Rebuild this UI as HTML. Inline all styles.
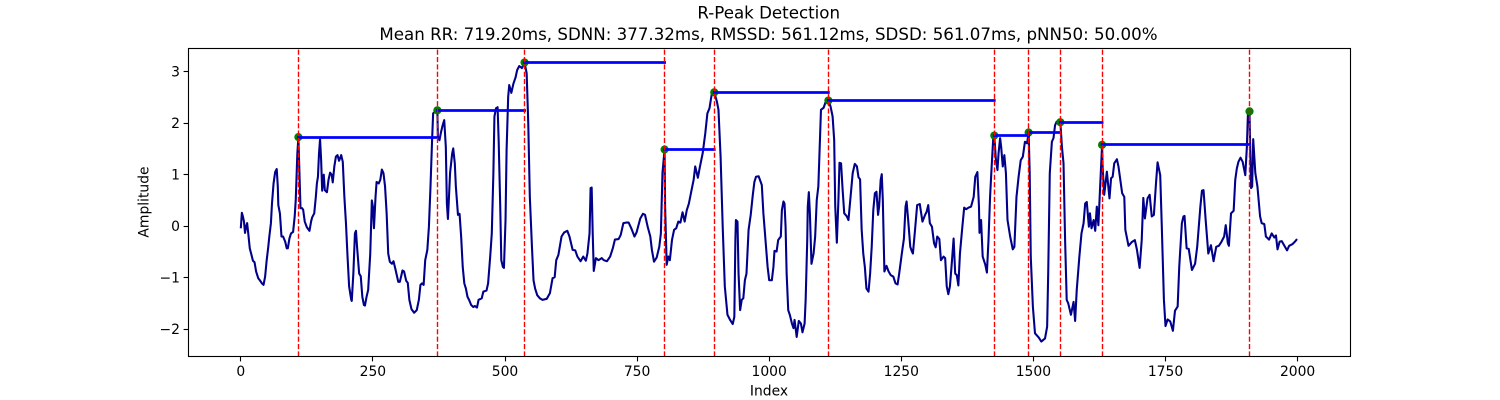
<!DOCTYPE html>
<html>
<head>
<meta charset="utf-8">
<title>R-Peak Detection</title>
<style>
html,body{margin:0;padding:0;background:#fff;width:1500px;height:400px;overflow:hidden}
svg{display:block}
text{font-family:"DejaVu Sans",sans-serif;fill:#000}
</style>
</head>
<body>
<svg id="chart" xmlns="http://www.w3.org/2000/svg" width="1500" height="400" viewBox="0 0 1500 400">
<rect x="0" y="0" width="1500" height="400" fill="#fff"/>
<text x="768.7" y="18.5" font-size="16.67" text-anchor="middle">R-Peak Detection</text>
<text x="768.5" y="40" font-size="16.67" text-anchor="middle">Mean RR: 719.20ms, SDNN: 377.32ms, RMSSD: 561.12ms, SDSD: 561.07ms, pNN50: 50.00%</text>
<text x="769" y="395.5" font-size="13.89" text-anchor="middle">Index</text>
<text x="148.5" y="202" font-size="13.89" text-anchor="middle" transform="rotate(-90 148.5 202)">Amplitude</text>
<g id="marks"></g>
<g id="axes"></g>
</svg>
<script>
const xTicks = [0, 250, 500, 750, 1000, 1250, 1500, 1750, 2000];
const yTicks = [-2, -1, 0, 1, 2, 3];
const peakIndex = [109, 372, 537, 802, 896, 1112, 1426, 1491, 1551, 1630, 1909];
const peakAmplitude = [1.73, 2.25, 3.18, 1.49, 2.60, 2.44, 1.76, 1.82, 2.02, 1.58, 2.23];
const sampleIndex = [0,2,4,6,8,10,12,14,17,20,23,26,29,33,36,40,43,46,49,52,54,57,59,62,65,68,70,71,74,77,80,84,87,89,92,95,99,102,104,107,109,111,113,116,118,121,125,130,133,135,139,142,144,146,148,150,152,154,157,159,163,166,169,172,174,177,180,183,186,190,193,196,199,202,205,209,210,213,216,218,220,224,227,230,233,235,238,241,245,248,250,252,255,257,261,264,267,270,273,276,279,282,286,289,293,298,301,306,309,313,316,319,323,328,333,337,340,343,346,349,353,356,359,362,364,369,372,373,376,379,382,385,388,390,392,394,396,400,402,405,407,411,414,417,420,423,426,429,432,436,440,443,447,450,452,456,459,465,468,472,475,478,480,483,486,488,491,493,496,498,501,503,506,508,512,516,520,523,527,532,537,541,544,547,551,554,557,561,566,571,579,585,590,594,597,601,607,612,618,622,628,633,637,643,648,653,656,660,662,664,666,668,672,677,683,687,693,699,704,708,715,719,724,729,734,739,745,749,756,761,765,770,775,778,782,787,792,795,798,802,803,806,809,812,816,820,824,828,832,836,840,844,848,853,857,860,865,869,874,879,883,887,891,896,901,904,908,912,916,921,926,931,934,936,937,940,942,945,948,951,954,957,961,965,969,972,975,980,986,989,992,997,1000,1005,1008,1010,1014,1017,1019,1022,1024,1027,1029,1031,1033,1036,1039,1043,1046,1048,1052,1056,1060,1063,1067,1069,1072,1073,1075,1077,1080,1084,1087,1090,1093,1096,1098,1103,1107,1112,1116,1120,1123,1125,1128,1131,1133,1136,1139,1142,1147,1150,1154,1158,1162,1166,1169,1172,1175,1178,1181,1184,1188,1191,1194,1197,1200,1203,1206,1208,1211,1213,1215,1218,1222,1226,1230,1235,1239,1243,1246,1251,1255,1258,1260,1263,1267,1270,1272,1276,1280,1285,1290,1295,1298,1301,1304,1308,1312,1315,1318,1322,1325,1330,1333,1336,1339,1342,1345,1349,1352,1355,1358,1361,1365,1369,1373,1377,1382,1387,1390,1394,1397,1398,1401,1404,1409,1412,1415,1418,1421,1424,1426,1429,1432,1434,1437,1439,1442,1445,1448,1451,1456,1461,1464,1468,1472,1476,1480,1484,1488,1491,1493,1495,1499,1503,1510,1515,1522,1526,1528,1531,1535,1538,1541,1544,1551,1554,1557,1560,1563,1566,1571,1576,1579,1582,1587,1591,1595,1598,1601,1605,1607,1610,1614,1617,1620,1623,1626,1630,1631,1634,1639,1644,1647,1650,1653,1658,1661,1665,1668,1672,1674,1680,1686,1692,1696,1701,1705,1708,1711,1716,1720,1724,1728,1732,1735,1740,1743,1747,1750,1754,1759,1764,1768,1773,1776,1781,1784,1786,1790,1794,1800,1806,1810,1816,1819,1822,1826,1831,1836,1841,1846,1851,1856,1861,1864,1868,1870,1874,1879,1882,1885,1888,1892,1896,1901,1904,1906,1909,1910,1912,1914,1916,1920,1924,1929,1932,1937,1940,1946,1951,1956,1959,1962,1966,1970,1975,1980,1984,1990,1995,1999];
const amplitude = [-0.04,0.26,0.19,0.09,-0.13,-0.01,0.06,-0.13,-0.43,-0.55,-0.67,-0.70,-0.88,-1.01,-1.05,-1.11,-1.14,-0.98,-0.66,-0.40,-0.20,0.06,0.44,0.83,1.05,1.11,0.77,0.41,0.25,-0.20,-0.20,-0.30,-0.43,-0.43,-0.24,-0.14,-0.11,0.19,0.51,1.41,1.73,1.03,0.35,0.35,0.32,0.09,-0.02,-0.09,0.09,0.17,0.25,0.57,0.83,0.96,1.41,1.69,1.29,0.69,1.00,0.70,0.66,0.90,1.04,1.00,0.85,1.16,1.35,1.38,1.27,1.38,1.25,0.57,0.06,-0.59,-1.17,-1.43,-1.45,-0.92,-0.14,-0.09,-0.40,-0.92,-0.97,-1.37,-1.53,-1.54,-1.37,-1.24,-0.53,0.50,0.38,-0.04,0.57,0.86,0.83,0.90,1.10,1.03,0.77,0.25,-0.53,-0.69,-0.73,-0.68,-0.85,-1.08,-1.08,-0.86,-0.88,-1.06,-1.10,-1.43,-1.61,-1.68,-1.63,-1.43,-1.14,-1.11,-1.14,-0.66,-0.46,-0.01,0.77,1.67,2.19,2.24,2.25,1.74,1.67,1.83,1.96,2.06,1.54,0.44,0.14,0.57,1.03,1.41,1.51,1.22,0.77,0.22,0.24,-0.20,-0.79,-1.11,-1.21,-1.37,-1.43,-1.53,-1.57,-1.55,-1.58,-1.43,-1.42,-1.40,-1.27,-1.25,-1.11,-0.59,-0.14,1.03,2.13,2.29,2.31,1.67,0.38,-0.66,-0.79,-0.81,0.12,1.48,2.51,2.74,2.59,2.77,2.89,3.03,3.11,3.07,3.18,2.97,2.00,0.57,-0.40,-1.05,-1.21,-1.34,-1.40,-1.43,-1.41,-1.30,-1.01,-0.99,-0.66,-0.56,-0.20,-0.12,-0.09,-0.20,-0.46,-0.47,-0.59,-0.68,-0.59,-0.67,-0.53,-0.14,0.74,0.75,-0.14,-0.87,-0.62,-0.66,-0.62,-0.66,-0.68,-0.59,-0.43,-0.26,-0.25,-0.17,0.06,0.07,0.07,-0.04,-0.20,-0.12,0.15,0.24,0.22,-0.01,-0.20,-0.46,-0.69,-0.61,-0.40,-0.14,1.03,1.49,0.38,-0.75,-0.59,-0.66,-0.27,-0.07,-0.04,0.09,0.07,0.27,0.09,0.31,0.44,0.70,0.90,1.16,0.94,1.16,1.41,1.80,2.19,2.29,2.55,2.60,2.42,2.26,1.35,-0.01,-1.17,-1.72,-1.82,-1.90,-1.76,-0.27,0.12,0.09,-0.92,-1.63,-1.43,-1.40,-1.05,-0.92,-0.07,0.22,0.61,0.86,0.96,0.97,0.80,0.25,-0.14,-0.79,-1.05,-1.05,-0.79,-0.48,-0.49,-0.27,-0.24,-0.20,0.31,0.48,0.44,-0.01,-0.92,-1.63,-1.72,-1.89,-1.98,-1.82,-2.15,-1.84,-1.89,-2.06,-1.89,-1.43,-0.27,0.38,0.66,0.25,-0.73,-0.53,-0.20,0.51,0.77,1.67,2.26,2.30,2.42,2.44,2.33,2.13,1.67,0.38,-0.32,0.51,1.23,1.22,0.70,0.25,0.19,0.12,0.57,1.03,1.21,1.16,0.95,0.91,-0.07,-0.53,-0.79,-1.21,-1.27,-0.92,-0.40,0.31,0.64,0.67,0.22,0.38,0.90,1.01,0.51,-0.88,-0.77,-0.88,-0.95,-0.98,-1.11,-1.13,-0.92,-0.53,-0.24,0.38,0.48,0.12,-0.40,-0.49,-0.53,-0.07,0.41,0.43,0.09,0.22,0.28,0.41,0.06,-0.01,-0.33,-0.41,-0.20,-0.25,-0.66,-0.59,-0.62,-1.17,-1.32,-1.17,-0.79,-0.24,-0.92,-0.95,-1.15,-0.53,-0.07,0.36,0.33,0.36,0.38,0.57,0.96,1.05,0.38,-0.13,0.12,-0.59,-0.75,-0.90,-0.27,0.57,1.16,1.71,1.76,1.29,1.09,1.41,1.71,1.54,1.16,1.38,1.03,0.12,-0.20,-0.45,-0.40,0.57,0.96,1.28,1.35,1.64,1.61,1.82,1.03,-0.59,-1.56,-2.08,-2.16,-2.24,-2.18,-1.95,-0.92,1.03,1.64,1.71,1.96,2.03,2.02,1.54,1.22,-0.27,-1.43,-1.50,-1.72,-1.47,-1.84,-1.24,-0.59,-0.14,0.06,0.44,0.47,-0.01,0.25,-0.04,0.12,-0.09,0.38,0.02,0.70,1.58,1.16,0.61,1.06,0.54,0.93,0.96,1.22,1.30,1.16,0.86,0.64,0.57,-0.07,-0.38,-0.31,-0.27,-0.46,-0.81,-0.27,0.55,0.15,0.54,0.61,0.19,0.22,0.83,1.24,0.99,-0.01,-1.43,-1.94,-1.81,-1.85,-2.03,-1.64,-1.56,-0.79,0.06,0.19,0.20,-0.43,-0.44,-0.85,-0.73,-0.40,0.38,0.69,0.70,0.12,-0.53,-0.37,-0.68,-0.40,-0.38,-0.30,-0.20,0.02,-0.33,-0.38,0.25,0.30,0.90,1.12,1.25,1.33,1.25,0.99,1.54,2.19,2.23,1.67,0.74,0.77,1.69,1.03,0.77,0.19,0.06,0.04,-0.20,-0.26,-0.14,-0.22,-0.18,-0.45,-0.30,-0.29,-0.38,-0.47,-0.38,-0.35,-0.30,-0.25];

const SVG_NS = 'http://www.w3.org/2000/svg';
const plotLeft = 188.5, plotRight = 1350.5, plotTop = 48.5, plotBottom = 356.5;
function xScale(v) { return 240.8 + v * 0.5284; }
function yScale(v) { return 226.2 - v * 51.5; }
function snap(px) { return Math.floor(px) + 0.5; }
function make(tag, attrs) {
  const el = document.createElementNS(SVG_NS, tag);
  for (const k in attrs) el.setAttribute(k, attrs[k]);
  return el;
}
const marks = document.getElementById('marks');
const axes = document.getElementById('axes');

const signal = make('polyline', {
  points: sampleIndex.map((v, i) => xScale(v).toFixed(2) + ',' + yScale(amplitude[i]).toFixed(2)).join(' '),
  fill: 'none', stroke: '#00008b', 'stroke-width': 2.08, 'stroke-linejoin': 'round'
});


marks.appendChild(signal);

peakIndex.forEach((p, i) => {
  const dot = make('circle', { cx: xScale(p), cy: yScale(peakAmplitude[i]), r: 4.1, fill: '#008000' });
  
  
  marks.appendChild(dot);
});

peakIndex.forEach((p, i) => {
  if (i === peakIndex.length - 1) return;
  const seg = make('line', {
    x1: xScale(p), x2: xScale(peakIndex[i + 1]),
    y1: snap(yScale(peakAmplitude[i])), y2: snap(yScale(peakAmplitude[i])),
    stroke: '#0000ff', 'stroke-width': 2.78, 'stroke-linecap': 'square'
  });
  
  
  marks.appendChild(seg);
});

peakIndex.forEach((p) => {
  const v = make('line', {
    x1: snap(xScale(p)), x2: snap(xScale(p)), y1: plotBottom, y2: plotTop,
    stroke: '#ff0000', 'stroke-width': 1.39, 'stroke-dasharray': '5.14 2.22'
  });
  
  
  marks.appendChild(v);
});

xTicks.forEach((t) => {
  const x = snap(xScale(t));
  const tick = make('line', { x1: x, x2: x, y1: plotBottom, y2: plotBottom + 4.9, stroke: '#000', 'stroke-width': 1.11 });
  
  
  axes.appendChild(tick);
  const label = make('text', { x: xScale(t), y: 376, 'font-size': 13.89, 'text-anchor': 'middle' });
  
  
  label.textContent = String(t);
  axes.appendChild(label);
});

yTicks.forEach((t) => {
  const y = snap(yScale(t));
  const tick = make('line', { x1: plotLeft - 4.9, x2: plotLeft, y1: y, y2: y, stroke: '#000', 'stroke-width': 1.11 });
  
  
  axes.appendChild(tick);
  const label = make('text', { x: plotLeft - 8.5, y: yScale(t) + 5, 'font-size': 13.89, 'text-anchor': 'end' });
  
  
  label.textContent = (t < 0 ? '\u2212' : '') + Math.abs(t);
  axes.appendChild(label);
});

const frame = make('rect', {
  x: plotLeft, y: plotTop, width: plotRight - plotLeft, height: plotBottom - plotTop,
  fill: 'none', stroke: '#000', 'stroke-width': 1.11
});


axes.appendChild(frame);
</script>
</body>
</html>
